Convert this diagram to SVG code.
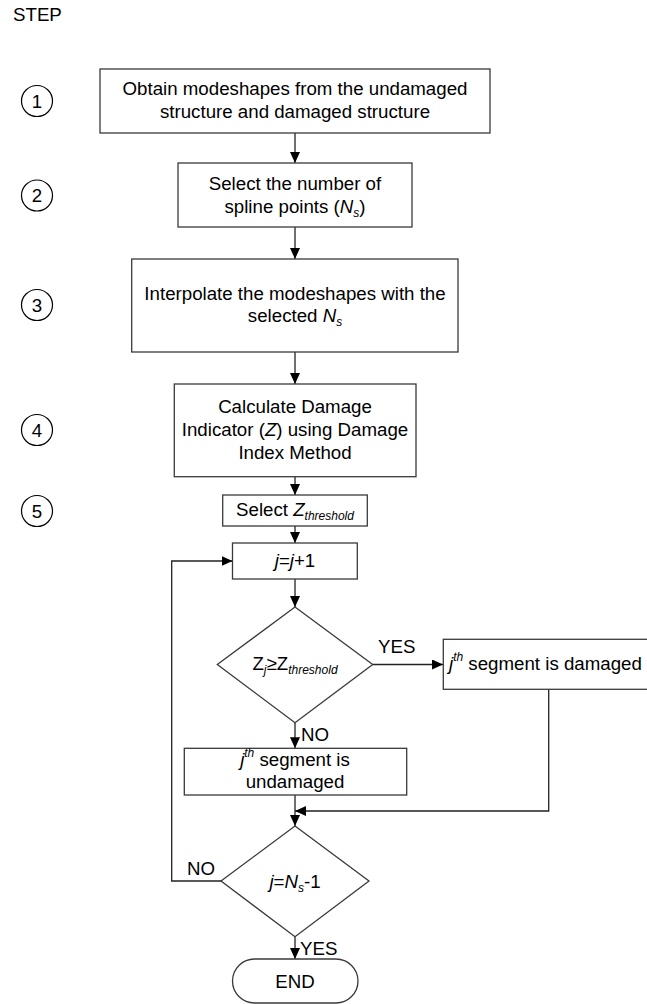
<svg xmlns="http://www.w3.org/2000/svg" width="647" height="1004" viewBox="0 0 647 1004">
<style>
text{font-family:"Liberation Sans",Arial,sans-serif;font-size:18.7px;fill:#000}
.c{text-anchor:middle}
.i{font-style:italic}
.s{font-size:12px;font-style:italic}
.box{fill:#fff;stroke:#3a3a3a;stroke-width:1.3}
.ln{fill:none;stroke:#222;stroke-width:1.3}
.circ{fill:none;stroke:#000;stroke-width:1.2}
</style>
<defs>
<marker id="ah" markerUnits="userSpaceOnUse" markerWidth="12" markerHeight="10" refX="11" refY="5" orient="auto">
<path d="M0,0 L11,5 L0,10 Z" fill="#000"/>
</marker>
</defs>
<rect width="647" height="1004" fill="#fff"/>
<text x="13" y="21">STEP</text>
<g id="steps">
<circle class="circ" cx="37" cy="101" r="15.5"/><text class="c" x="37" y="107.5">1</text>
<circle class="circ" cx="37" cy="195.5" r="15.5"/><text class="c" x="37" y="202">2</text>
<circle class="circ" cx="37" cy="305" r="15.5"/><text class="c" x="37" y="311.5">3</text>
<circle class="circ" cx="37" cy="430" r="15.5"/><text class="c" x="37" y="436.5">4</text>
<circle class="circ" cx="37" cy="511" r="15.5"/><text class="c" x="37" y="517.5">5</text>
</g>
<g id="connectors">
<line class="ln" x1="295" y1="133" x2="295" y2="163" marker-end="url(#ah)"/>
<line class="ln" x1="295" y1="227" x2="295" y2="259" marker-end="url(#ah)"/>
<line class="ln" x1="295" y1="352" x2="295" y2="384" marker-end="url(#ah)"/>
<line class="ln" x1="295" y1="477" x2="295" y2="495" marker-end="url(#ah)"/>
<line class="ln" x1="295" y1="526" x2="295" y2="543" marker-end="url(#ah)"/>
<line class="ln" x1="295" y1="579" x2="295" y2="607" marker-end="url(#ah)"/>
<line class="ln" x1="372.7" y1="664.5" x2="443" y2="664.5" marker-end="url(#ah)"/>
<line class="ln" x1="295" y1="722.7" x2="295" y2="748.3" marker-end="url(#ah)"/>
<polyline class="ln" points="548.7,689.3 548.7,811 295,811" marker-end="url(#ah)"/>
<line class="ln" x1="295" y1="795" x2="295" y2="826" marker-end="url(#ah)"/>
<polyline class="ln" points="221,881 171.7,881 171.7,561 232.5,561" marker-end="url(#ah)"/>
<line class="ln" x1="295" y1="937" x2="295" y2="959" marker-end="url(#ah)"/>
<text x="378" y="653">YES</text>
<text x="301" y="741">NO</text>
<text x="187" y="875">NO</text>
<text x="300" y="955">YES</text>
</g>
<g id="n1">
<rect class="box" x="100" y="69" width="390" height="64"/>
<text class="c" x="295" y="95">Obtain modeshapes from the undamaged</text>
<text class="c" x="295" y="118">structure and damaged structure</text>
</g>
<g id="n2">
<rect class="box" x="178" y="163" width="234" height="64"/>
<text class="c" x="295" y="190">Select the number of</text>
<text class="c" x="295" y="213">spline points (<tspan class="i">N</tspan><tspan class="s" dy="4">s</tspan><tspan dy="-4">)</tspan></text>
</g>
<g id="n3">
<rect class="box" x="131.7" y="259" width="326.3" height="93"/>
<text class="c" x="295" y="300">Interpolate the modeshapes with the</text>
<text class="c" x="295" y="322">selected <tspan class="i">N</tspan><tspan class="s" dy="4">s</tspan></text>
</g>
<g id="n4">
<rect class="box" x="174.3" y="384" width="241.7" height="92.7"/>
<text class="c" x="295" y="413">Calculate Damage</text>
<text class="c" x="295" y="436">Indicator (<tspan class="i">Z</tspan>) using Damage</text>
<text class="c" x="295" y="458.5">Index Method</text>
</g>
<g id="n5">
<rect class="box" x="222.7" y="495" width="144.6" height="31"/>
<text class="c" x="295" y="516">Select <tspan class="i">Z</tspan><tspan class="s" dy="4">threshold</tspan></text>
</g>
<g id="n6">
<rect class="box" x="232.5" y="543" width="124.8" height="36"/>
<text class="c" x="295" y="567"><tspan class="i">j</tspan>=<tspan class="i">j</tspan>+1</text>
</g>
<g id="d1">
<polygon class="box" points="295,607 372.7,664.5 295,722.7 217.3,664.5"/>
<text class="c" x="295" y="670">Z<tspan class="s" dy="4">j</tspan><tspan dy="-4">≥Z</tspan><tspan class="s" dy="4">threshold</tspan></text>
</g>
<g id="n7">
<rect class="box" x="443.3" y="639.3" width="210" height="50"/>
<text x="449" y="670"><tspan class="i">j</tspan><tspan class="s" dy="-9">th</tspan><tspan dy="9"> segment is damaged</tspan></text>
</g>
<g id="n8">
<rect class="box" x="184.3" y="748.3" width="222.4" height="46.7"/>
<text class="c" x="295" y="766"><tspan class="i">j</tspan><tspan class="s" dy="-9">th</tspan><tspan dy="9"> segment is</tspan></text>
<text class="c" x="295" y="788">undamaged</text>
</g>
<g id="d2">
<polygon class="box" points="295,826 369,881 295,936.7 221,881"/>
<text class="c" x="295" y="888"><tspan class="i">j</tspan>=<tspan class="i">N</tspan><tspan class="s" dy="4">s</tspan><tspan dy="-4">-1</tspan></text>
</g>
<g id="end">
<rect class="box" x="232.5" y="959" width="125.5" height="44" rx="22" ry="22"/>
<text class="c" x="295" y="988">END</text>
</g>
</svg>
